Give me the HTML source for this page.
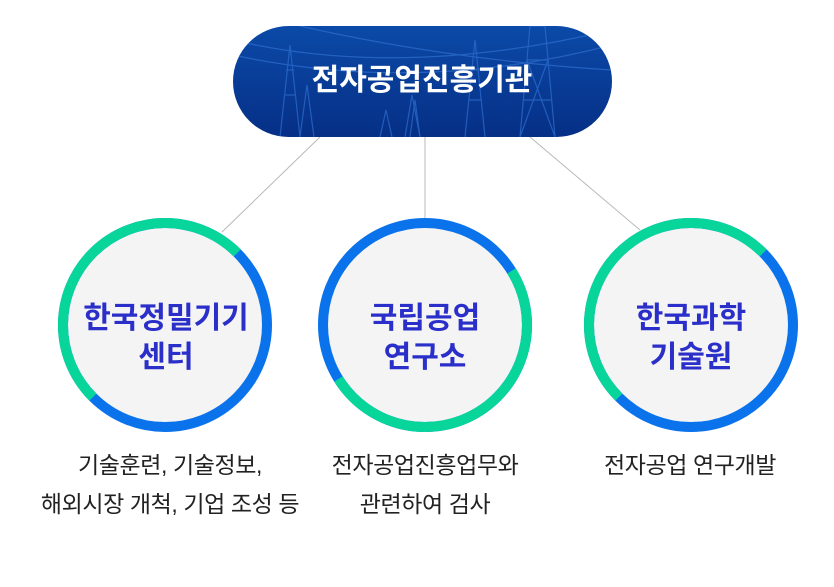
<!DOCTYPE html>
<html><head><meta charset="utf-8"><style>
html,body{margin:0;padding:0;background:#fff;}
body{width:834px;height:587px;position:relative;overflow:hidden;font-family:"Liberation Sans","Noto Sans CJK KR",sans-serif;}
.t{position:absolute;text-align:center;color:#222;font-size:23px;line-height:39px;letter-spacing:-0.4px;}
</style></head><body>
<svg width="834" height="587" style="position:absolute;left:0;top:0">
<defs>
<linearGradient id="g" x1="0" y1="0" x2="0" y2="1"><stop offset="0" stop-color="#0b4aa8"/><stop offset="1" stop-color="#062f86"/></linearGradient>
<clipPath id="pc"><rect x="233" y="26" width="379" height="111" rx="55.5"/></clipPath>
</defs>
<line x1="320" y1="137" x2="222" y2="232" stroke="#b8b8b8" stroke-width="1"/>
<line x1="425" y1="137" x2="425" y2="218" stroke="#b8b8b8" stroke-width="1"/>
<line x1="530" y1="137" x2="640" y2="230" stroke="#b8b8b8" stroke-width="1"/>
<rect x="233" y="26" width="379" height="111" rx="55.5" fill="url(#g)"/>
<g clip-path="url(#pc)" stroke="#2f6fd0" stroke-width="1.2" fill="none" opacity="0.7">
<path d="M280 137 L290 45 L300 137 M284 95 L296 95 M286 70 L294 70"/>
<path d="M300 137 L307 85 L314 137"/>
<path d="M410 137 L415 100 L420 137"/>
<path d="M405 137 L412 95 L420 137"/>
<path d="M380 137 L386 110 L392 137"/>
<path d="M465 137 L475 40 L485 137 M468 100 L482 100 M470 70 L480 70"/>
<path d="M520 137 L530 26 L545 26 L555 137 M523 100 L552 100 M527 60 L548 60 M520 137 L548 60 M555 137 L527 60"/>
<path d="M233 40 Q400 80 612 30 M233 55 Q420 95 612 45 M300 26 Q450 60 612 70"/>
</g>
<text x="422" y="90" text-anchor="middle" fill="#fff" font-size="30" font-weight="bold" font-family="Liberation Sans, Noto Sans CJK KR, sans-serif">전자공업진흥기관</text>

<g>
<circle cx="165" cy="325" r="102" fill="#f4f4f4" stroke="#0a73ec" stroke-width="10"/>
<circle cx="165" cy="325" r="102" fill="none" stroke="#07d59a" stroke-width="10" stroke-dasharray="320.4 700" transform="rotate(135 165 325)"/>
<circle cx="425" cy="325" r="102" fill="#f4f4f4" stroke="#0a73ec" stroke-width="10"/>
<circle cx="425" cy="325" r="102" fill="none" stroke="#07d59a" stroke-width="10" stroke-dasharray="320.4 700" transform="rotate(-32 425 325)"/>
<circle cx="691" cy="325" r="102" fill="#f4f4f4" stroke="#0a73ec" stroke-width="10"/>
<circle cx="691" cy="325" r="102" fill="none" stroke="#07d59a" stroke-width="10" stroke-dasharray="320.4 700" transform="rotate(135 691 325)"/>
</g>
<g fill="#2b2fc9" font-size="30" font-weight="bold" text-anchor="middle" font-family="Liberation Sans, Noto Sans CJK KR, sans-serif">
<text x="166" y="328">한국정밀기기</text>
<text x="166" y="367">센터</text>
<text x="425" y="328">국립공업</text>
<text x="425" y="367">연구소</text>
<text x="691" y="328">한국과학</text>
<text x="691" y="367">기술원</text>
</g>
</svg>
<div class="t" style="left:10px;width:320px;top:446px">기술훈련, 기술정보,<br>해외시장 개척, 기업 조성 등</div>
<div class="t" style="left:285px;width:280px;top:446px">전자공업진흥업무와<br>관련하여 검사</div>
<div class="t" style="left:550px;width:280px;top:446px">전자공업 연구개발</div>
</body></html>
